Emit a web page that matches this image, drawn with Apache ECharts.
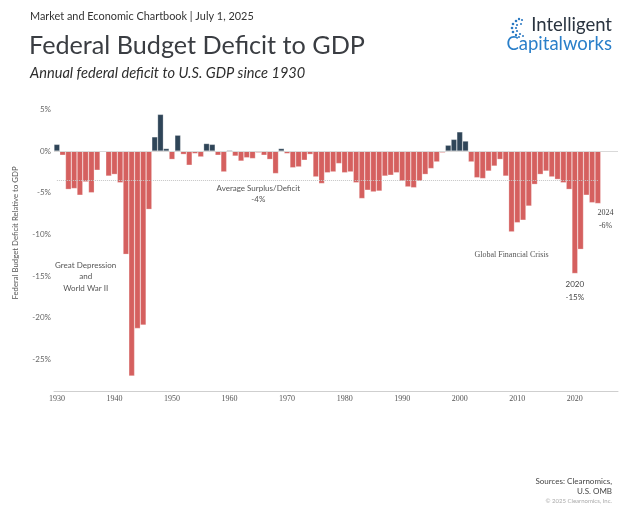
<!DOCTYPE html>
<html>
<head>
<meta charset="utf-8">
<script src="https://cdn.jsdelivr.net/npm/echarts@6/dist/echarts.min.js"></script>
<style>
html,body{margin:0;padding:0;background:#fff;}
#c{width:622px;height:505px;}
</style>
</head>
<body>
<div id="c"></div>
<script>
// Fiscal years shown
const years = ['1930','1931','1932','1933','1934','1935','1936','1937','1938','1939',
'1940','1941','1942','1943','1944','1945','1946','1947','1948','1949',
'1950','1951','1952','1953','1954','1955','1956','1957','1958','1959',
'1960','1961','1962','1963','1964','1965','1966','1967','1968','1969',
'1970','1971','1972','1973','1974','1975','1976','1977','1978','1979',
'1980','1981','1982','1983','1984','1985','1986','1987','1988','1989',
'1990','1991','1992','1993','1994','1995','1996','1997','1998','1999',
'2000','2001','2002','2003','2004','2005','2006','2007','2008','2009',
'2010','2011','2012','2013','2014','2015','2016','2017','2018','2019',
'2020','2021','2022','2023','2024'];
// empty slots on the right of the axis
const padYears = ['2025','2026','2027'];
// Surplus(+)/deficit(-) as % of GDP
const deficitPct = [0.8,-0.5,-4.6,-4.5,-5.3,-3.7,-5.0,-2.3,0,-3.0,
-2.8,-3.8,-12.4,-27.0,-21.3,-20.9,-7.0,1.7,4.4,0.3,
-1.0,1.9,-0.4,-1.7,-0.3,-0.7,0.9,0.8,-0.5,-2.5,
0.1,-0.6,-1.2,-0.8,-0.9,-0.2,-0.5,-1.0,-2.7,0.3,
-0.3,-2.0,-1.9,-1.1,-0.4,-3.1,-3.9,-2.6,-2.5,-1.5,
-2.6,-2.5,-3.8,-5.7,-4.7,-4.9,-4.8,-3.0,-2.9,-2.6,
-3.6,-4.3,-4.4,-3.6,-2.8,-2.1,-1.3,-0.2,0.7,1.4,
2.3,1.2,-1.3,-3.2,-3.3,-2.4,-1.8,-1.0,-3.0,-9.7,
-8.6,-8.3,-6.6,-4.0,-2.8,-2.4,-3.1,-3.4,-3.8,-4.6,
-14.7,-11.8,-5.3,-6.2,-6.3];
const averagePct = -3.5;
const yTicks = [5,0,-5,-10,-15,-20,-25];

const RED = '#D5605F', BLUE = '#2F4558';
const SANS = 'Lato, "Noto Sans", sans-serif';
const SERIF = '"Liberation Serif", "DejaVu Serif", serif';

const chart = echarts.init(document.getElementById('c'), null, {renderer:'canvas'});

const logoDots = [];
const dotSpec = [[518,21,1.3],[521,19,1.2],[524,20,1.1],[515,24,1.3],[519,25,1.1],[523,24,1],[514,28,1.3],[518,28,1.1],[515,32,1.3],[519,31,1.1],[518,35,1.2],[522,34,1.1],[525,36,1],[521,37,1]];
dotSpec.forEach(d => logoDots.push({type:'circle', shape:{cx:d[0]-2, cy:d[1], r:d[2]}, style:{fill:'#2b79c2'}}));

chart.setOption({
  animation:false,
  backgroundColor:'#fff',
  grid:{left:54, right:4, top:109.4, bottom:114.1, containLabel:false},
  xAxis:{
    type:'category',
    data: years.concat(padYears),
    axisLine:{show:true, onZero:false, lineStyle:{color:'#cfcfcf', width:1}},
    axisTick:{show:false},
    axisLabel:{interval:9, color:'#555', fontFamily:SERIF, fontSize:8, margin:4},
    splitLine:{show:false}
  },
  yAxis:{
    type:'value',
    min:-28.8, max:5,
    axisLine:{show:false},
    axisTick:{show:false},
    splitLine:{show:false},
    axisLabel:{customValues:yTicks, color:'#666', fontFamily:SANS, fontSize:8, margin:3,
      formatter: v => v + '%'}
  },
  series:[{
    type:'bar',
    data: deficitPct,
    barCategoryGap:'0%',
    itemStyle:{
      color: p => p.value >= 0 ? BLUE : RED,
      borderColor:'rgba(255,255,255,0.5)', borderWidth:0.5
    },
    markLine:{
      silent:true, symbol:'none', label:{show:false},
      data:[
        {yAxis:0, lineStyle:{color:'#d9d9d9', type:'solid', width:1}},
        [{coord:[years[0], averagePct], lineStyle:{color:'#c4c4c4', type:'dotted', width:1}},
         {coord:[years[years.length-1], averagePct]}]
      ]
    },
    markPoint:{
      symbol:'circle', symbolSize:0, silent:true,
      label:{show:true, position:'inside', color:'#555', fontFamily:SANS, fontSize:8, lineHeight:11},
      data:[
        {coord:['1965', -5.1], value:'', label:{formatter:'Average Surplus/Deficit\n-4%'}},
        {coord:['1935', -15.1], value:'', label:{formatter:'Great Depression\nand\nWorld War II', lineHeight:11.5}},
        {coord:['2009', -12.5], value:'', label:{formatter:'Global Financial Crisis', fontFamily:SERIF}},
        {coord:['2020', -16.8], value:'', label:{formatter:'2020\n-15%', lineHeight:13, color:'#444'}},
        {coord:['2025', -8.2], value:'', label:{formatter:'2024\n-6%', fontFamily:SERIF, lineHeight:13, color:'#444', offset:[2,0]}}
      ]
    }
  }],
  graphic:[
    {type:'text', left:30, top:11, style:{text:'Market and Economic Chartbook | July 1, 2025', fill:'#333', font:'10.9px '+SANS}},
    {type:'text', left:29, top:33, style:{text:'Federal Budget Deficit to GDP', fill:'#3a3d42', font:'25.2px '+SANS}},
    {type:'text', left:30, top:66, style:{text:'Annual federal deficit to U.S. GDP since 1930', fill:'#2e2e2e', font:'italic 14.6px '+SANS}},
    {type:'text', right:10, top:16, style:{text:'Intelligent', fill:'#2a3440', font:'18.5px '+SANS, align:'right'}},
    {type:'text', right:10, top:35, style:{text:'Capitalworks', fill:'#2a7fc9', font:'18.5px '+SANS, align:'right'}},
    {type:'group', children:logoDots},
    {type:'text', x:15, y:233, rotation:Math.PI/2, style:{text:'Federal Budget Deficit Relative to GDP', fill:'#555', font:'7.8px '+SANS, align:'center', verticalAlign:'middle'}},
    {type:'text', right:10, top:477, style:{text:'Sources: Clearnomics,', fill:'#444', font:'8px '+SANS, align:'right'}},
    {type:'text', right:10, top:487, style:{text:'U.S. OMB', fill:'#444', font:'8px '+SANS, align:'right'}},
    {type:'text', right:10, top:498, style:{text:'© 2025 Clearnomics, Inc.', fill:'#aaa', font:'6px '+SANS, align:'right'}}
  ]
});
</script>
</body>
</html>
